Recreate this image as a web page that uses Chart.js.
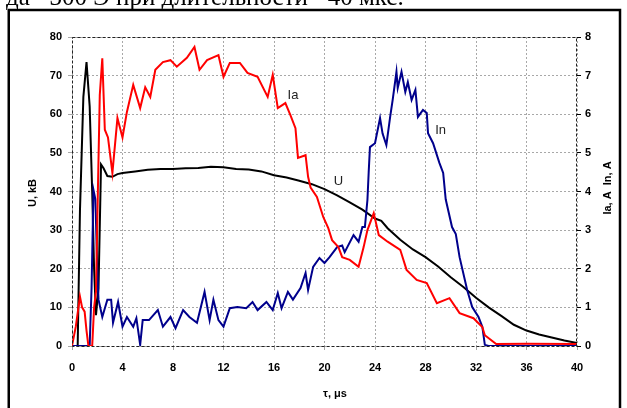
<!DOCTYPE html>
<html>
<head>
<meta charset="utf-8">
<script src="https://cdn.jsdelivr.net/npm/chart.js@4"></script>
<style>
  html, body { margin: 0; padding: 0; background: #fff; }
</style>
</head>
<body>
<canvas id="chart" width="627" height="408"></canvas>
<script>
// time axis, μs
const xTicks = [0, 4, 8, 12, 16, 20, 24, 28, 32, 36, 40];

// U, kV (left axis)
const uTime = [0, 0.45, 0.63, 0.9, 1.15, 1.4, 1.6, 1.75, 1.9, 2.1,
    2.3, 2.5, 2.8, 3.2, 3.6, 4, 5, 6, 7, 8,
    9, 10, 11, 12, 13, 14, 15, 16, 17, 18,
    19, 20, 21, 22, 23, 24, 24.5, 25, 26, 27,
    28, 29, 30, 31, 32, 33, 34, 35, 36, 37,
    38, 39, 40];
const uValues = [0, 0, 35, 64.5, 73.5, 62, 40, 20, 8, 15,
    47, 46, 44, 43.8, 44.5, 44.8, 45.2, 45.6, 45.8, 45.8,
    46, 46.1, 46.4, 46.3, 45.8, 45.7, 45.2, 44.2, 43.6, 42.8,
    41.9, 40.6, 39, 37.2, 35.3, 33, 32.4, 30.5, 27.5, 25,
    23, 20.6, 17.8, 15.3, 12.5, 10, 7.8, 5.5, 4, 3,
    2.2, 1.4, 0.8];

// Ia, A (right axis)
const iaTime = [0, 0.3, 0.63, 0.8, 1.0, 1.15, 1.3, 1.6, 1.75, 1.9,
    2.05, 2.2, 2.4, 2.6, 2.85, 3.2, 3.6, 4.0, 4.35, 4.85,
    5.4, 5.8, 6.2, 6.6, 7.2, 7.8, 8.3, 9.1, 9.7, 10.1,
    10.7, 11.6, 12, 12.5, 13.3, 13.9, 14.7, 15.5, 15.9, 16.3,
    16.9, 17.3, 17.7, 17.9, 18.5, 18.7, 18.9, 19.4, 19.9, 20.3,
    20.6, 21.1, 21.4, 22, 22.7, 23.1, 23.4, 23.9, 24.3, 25,
    26, 26.5, 27.3, 28.1, 28.9, 29.9, 30.7, 31.8, 32.5, 32.7,
    33.6, 36, 40];
const iaValues = [0, 0.5, 1.28, 1.0, 0.89, 0.4, 0, 0, 1.0, 1.4,
    4.0, 6.5, 7.45, 5.6, 5.4, 4.48, 5.9, 5.4, 6.06, 6.76,
    6.16, 6.7, 6.45, 7.15, 7.35, 7.4, 7.23, 7.46, 7.74, 7.15,
    7.4, 7.53, 6.97, 7.33, 7.33, 7.07, 6.97, 6.45, 7.02, 6.16,
    6.29, 5.98, 5.64, 4.87, 4.94, 4.38, 4.1, 3.86, 3.34, 3.05,
    2.74, 2.56, 2.3, 2.23, 2.05, 2.56, 3.0, 3.44, 2.87, 2.7,
    2.49, 1.97, 1.71, 1.63, 1.11, 1.24, 0.85, 0.72, 0.49, 0.28,
    0.05, 0.06, 0.05];

// In, A (right axis)
const inTime = [0, 1.4, 1.55, 1.7, 1.85, 2.0, 2.1, 2.4, 2.8, 3.1,
    3.25, 3.65, 4.0, 4.35, 4.85, 5.1, 5.4, 5.6, 6.1, 6.8,
    7.2, 7.8, 8.2, 8.8, 9.3, 9.9, 10.5, 10.9, 11.2, 11.6,
    12, 12.5, 13.1, 13.8, 14.3, 14.7, 15.4, 15.9, 16.3, 16.6,
    17.1, 17.5, 18.1, 18.5, 18.7, 19.1, 19.6, 20, 20.4, 21,
    21.4, 21.6, 22.3, 22.7, 23, 23.2, 23.4, 23.5, 23.6, 24,
    24.4, 24.6, 24.9, 25.2, 25.4, 25.7, 25.8, 26.1, 26.4, 26.6,
    26.9, 27.2, 27.4, 27.8, 28.1, 28.2, 28.6, 29.1, 29.4, 29.6,
    30.1, 30.4, 30.7, 31.3, 31.7, 32.2, 32.5, 32.7, 33, 40];
const inValues = [0, 0, 1.5, 4.04, 3.8, 2.05, 1.2, 0.75, 1.2, 1.2,
    0.6, 1.14, 0.5, 0.75, 0.5, 0.72, 0.03, 0.67, 0.67, 0.93,
    0.5, 0.75, 0.46, 0.93, 0.75, 0.6, 1.4, 0.67, 1.2, 0.67,
    0.5, 0.98, 1.01, 0.98, 1.14, 0.93, 1.14, 0.93, 1.37, 0.98,
    1.4, 1.2, 1.5, 1.89, 1.45, 2.05, 2.28, 2.15, 2.3, 2.56,
    2.6, 2.43, 2.87, 2.7, 3.08, 3.08, 3.78, 4.5, 5.15, 5.25,
    5.9, 5.5, 5.2, 5.93, 6.37, 7.1, 6.68, 7.1, 6.58, 6.83,
    6.37, 6.63, 5.93, 6.11, 6.03, 5.51, 5.25, 4.74, 4.48, 3.8,
    3.08, 2.9, 2.3, 1.45, 1.01, 0.75, 0.5, 0.03, 0, 0];

const TICK_FONT = { family: "'Liberation Sans', Arial, sans-serif", size: 11, weight: "bold" };
const GRID_COLOR = "#a8a8a8";

function toPoints(times, values) {
    return times.map((t, i) => ({ x: t, y: values[i] }));
}

// подписи, рамка, заголовки осей
const extrasPlugin = {
    id: "extras",
    beforeDraw: (chart) => {
        const ctx = chart.ctx;
        ctx.save();
        ctx.fillStyle = "#fff";
        ctx.fillRect(0, 0, chart.width, chart.height);
        ctx.restore();
    },
    afterDraw: (chart) => {
        const { ctx, chartArea: { left, right, top, bottom }, scales } = chart;
        ctx.save();

        // dashed plot frame
        ctx.strokeStyle = "#222";
        ctx.lineWidth = 1;
        ctx.setLineDash([3, 2]);
        ctx.strokeRect(left + 0.5, top + 0.5, right - left - 1, bottom - top);
        ctx.setLineDash([]);

        // outer box
        ctx.strokeStyle = "#000";
        ctx.lineWidth = 2.5;
        ctx.beginPath();
        ctx.moveTo(8.75, 408);
        ctx.lineTo(8.75, 10);
        ctx.lineTo(620, 10);
        ctx.lineTo(620, 408);
        ctx.stroke();

        // text above the box (cut off)
        ctx.fillStyle = "#000";
        ctx.font = "25px 'Liberation Serif', serif";
        ctx.textAlign = "left";
        ctx.textBaseline = "alphabetic";
        ctx.fillText("да ~300 Э при длительности ~40 мкс.", 6, 5);

        // series labels
        ctx.font = "13px 'Liberation Sans', Arial, sans-serif";
        ctx.fillStyle = "#222";
        ctx.textAlign = "center";
        ctx.textBaseline = "middle";
        ctx.fillText("Ia", scales.x.getPixelForValue(17.5), scales.y.getPixelForValue(65));
        ctx.fillText("U", scales.x.getPixelForValue(21.1), scales.y.getPixelForValue(42.5));
        ctx.fillText("In", scales.x.getPixelForValue(29.2), scales.y.getPixelForValue(55.7));

        // axis titles
        ctx.font = "bold 11px 'Liberation Sans', Arial, sans-serif";
        ctx.fillStyle = "#000";
        ctx.fillText("τ, μs", 335, 394);

        ctx.translate(33, 193);
        ctx.rotate(-Math.PI / 2);
        ctx.fillText("U, kB", 0, 0);
        ctx.rotate(Math.PI / 2);
        ctx.translate(-33, -193);

        ctx.translate(608, 188);
        ctx.rotate(-Math.PI / 2);
        ctx.fillText("Ia, A  In, A", 0, 0);
        ctx.restore();
    }
};

new Chart(document.getElementById("chart").getContext("2d"), {
    type: "line",
    data: {
        datasets: [
            { label: "Ia", data: toPoints(iaTime, iaValues), yAxisID: "y1", borderColor: "#ff0000" },
            { label: "In", data: toPoints(inTime, inValues), yAxisID: "y1", borderColor: "#00008c" },
            { label: "U", data: toPoints(uTime, uValues), yAxisID: "y", borderColor: "#000000" }
        ]
    },
    options: {
        responsive: false,
        animation: false,
        layout: { padding: { top: 37, left: 0, right: 0, bottom: 0 } },
        elements: {
            line: { borderWidth: 2, tension: 0 },
            point: { radius: 0 }
        },
        plugins: {
            legend: { display: false },
            tooltip: { enabled: false }
        },
        scales: {
            x: {
                type: "linear",
                min: 0,
                max: 40,
                afterFit: (scale) => { scale.height = 62; },
                afterBuildTicks: (scale) => { scale.ticks = xTicks.map(v => ({ value: v })); },
                grid: { color: GRID_COLOR, tickLength: 4 },
                border: { display: false, dash: [2, 2] },
                ticks: { font: TICK_FONT, color: "#000", padding: 11, maxRotation: 0 }
            },
            y: {
                position: "left",
                min: 0,
                max: 80,
                afterFit: (scale) => { scale.width = 72; },
                grid: { color: GRID_COLOR, tickLength: 4 },
                border: { display: false, dash: [2, 2] },
                ticks: { stepSize: 10, font: TICK_FONT, color: "#000", padding: 6 }
            },
            y1: {
                position: "right",
                min: 0,
                max: 8,
                afterFit: (scale) => { scale.width = 50; },
                grid: { drawOnChartArea: false, color: "#000", tickLength: 4 },
                border: { display: false },
                ticks: { stepSize: 1, font: TICK_FONT, color: "#000", padding: 4 }
            }
        }
    },
    plugins: [extrasPlugin]
});
</script>
</body>
</html>
